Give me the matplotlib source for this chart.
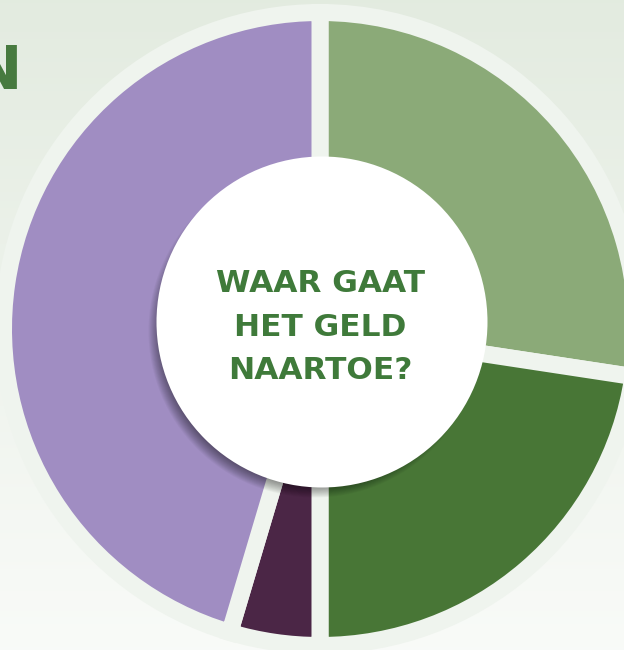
import matplotlib
matplotlib.use('Agg')
import matplotlib.pyplot as plt
import numpy as np
from matplotlib.patches import Circle

# share of each category (clockwise from 12 o'clock)
categories = ['Categorie A', 'Categorie B', 'Categorie C', 'Categorie D']
values = [27.4, 22.6, 4.6, 45.4]
colors = ['#8BAA78', '#487636', '#4B2646', '#A08DC2']

center_text = 'WAAR GAAT\nHET GELD\nNAARTOE?'
title_text = 'UITGAVEN'

W, H = 624, 650
ring_col = '#EFF4EE'
green_txt = '#3F7A3A'

fig = plt.figure(figsize=(W / 100, H / 100), dpi=100)
ax = fig.add_axes([0, 0, 1, 1])

# background gradient (light green at top, almost white at bottom)
top = np.array([0.890, 0.922, 0.878])
bot = np.array([0.976, 0.984, 0.973])
t = np.linspace(0, 1, 200)[:, None]
grad = top + (bot - top) * t
grad = np.repeat(grad[:, None, :], 2, axis=1)
ax.imshow(grad, extent=[0, W, 0, H], aspect='auto', zorder=0)

cx, cy = 320, H - 329
ax.add_patch(Circle((cx, cy), 324, color=ring_col, zorder=1, lw=0))

gap = 17  # px
ax.pie(values, colors=colors, center=(cx, cy), radius=308 + gap / 2,
       startangle=90, counterclock=False, frame=True,
       wedgeprops=dict(edgecolor=ring_col, linewidth=gap * 0.72, zorder=2))

# soft shadow under the inner circle
wx, wy, wr = 322, H - 322, 165.5
for i in range(14):
    ax.add_patch(Circle((wx - 7, wy - 9), wr + 1 - i * 0.9, color='black',
                        alpha=0.035, lw=0, zorder=3))
ax.add_patch(Circle((wx, wy), wr, color='white', lw=0, zorder=4))

ax.text(320, H - 327, center_text, ha='center', va='center',
        fontsize=22.5, fontweight='bold', color=green_txt,
        linespacing=1.62, zorder=5)

# title mostly off the left edge, only its last letter shows
ax.text(23, H - 73, title_text, ha='right', va='center',
        fontsize=44, fontweight='bold', color='#477A3F', zorder=5)

ax.set_xlim(0, W)
ax.set_ylim(0, H)
ax.set_aspect('auto')
ax.axis('off')

fig.savefig('out.png', dpi=100)
